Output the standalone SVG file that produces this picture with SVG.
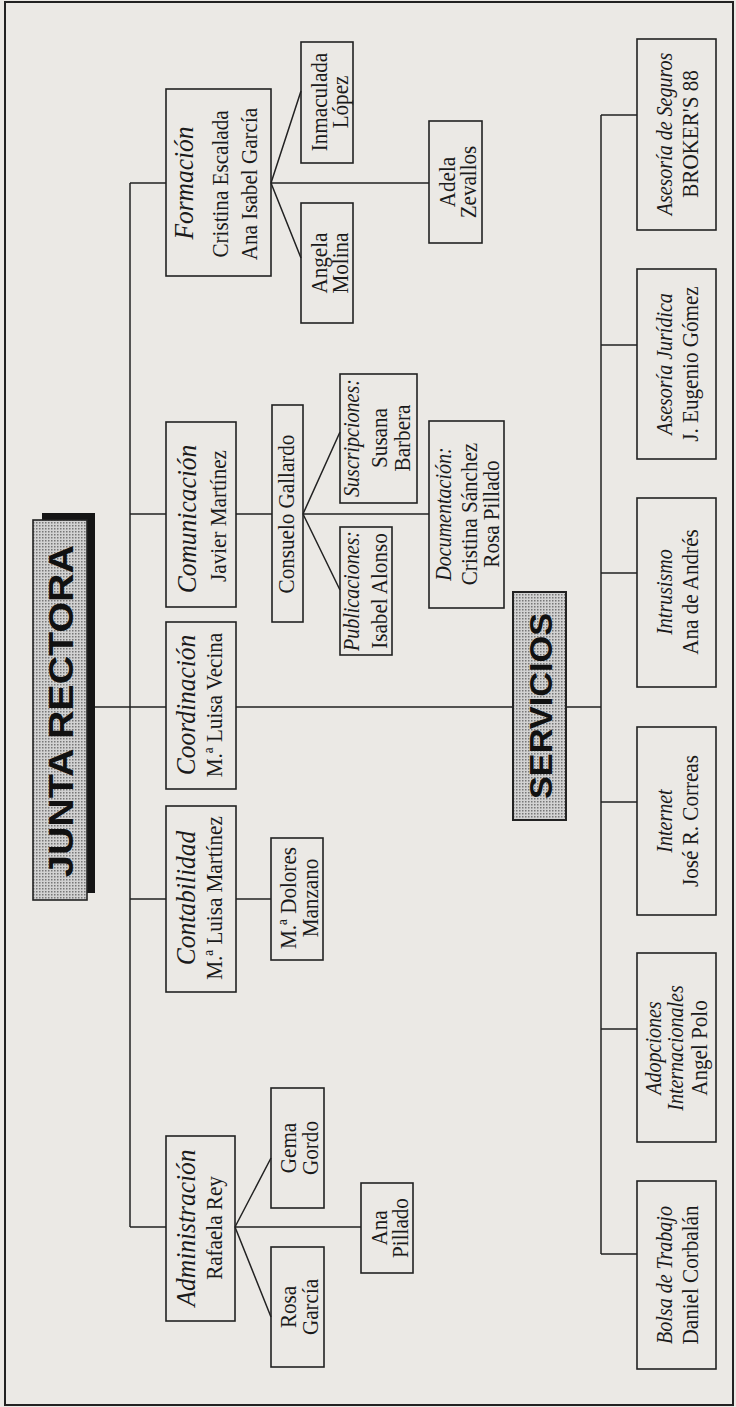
<svg xmlns="http://www.w3.org/2000/svg" width="736" height="1407" viewBox="0 0 736 1407">
<style>
.bg{fill:#ebe9e5}
.frame{fill:none;stroke:#222;stroke-width:2}
.box{fill:none;stroke:#222;stroke-width:1.6}
.conn path{fill:none;stroke:#222;stroke-width:1.5}
text{font-family:"Liberation Serif",serif;fill:#1a1a1a;text-anchor:middle}
.n{font-size:24px}
.h{font-size:28px;font-style:italic}
.l{font-size:23px;font-style:italic}
.big{font-family:"Liberation Sans",sans-serif;font-weight:700;fill:#111}
</style>
<defs>
<pattern id="dots" width="3" height="3" patternUnits="userSpaceOnUse">
<rect width="3" height="3" fill="#d2d2d2"/>
<rect width="1.5" height="1.5" fill="#777"/>
</pattern>
</defs>
<rect class="bg" x="0" y="0" width="736" height="1407"/>
<rect class="frame" x="5" y="2" width="728" height="1403"/>

<g id="connectors" class="conn">
<path d="M130,183 V1227"/>
<path d="M130,183 H166 M130,514 H166 M95,707 H166 M130,899 H166 M130,1227 H166"/>
<path d="M236,707 H513 M566,707 H601"/>
<path d="M601,115 V1254"/>
<path d="M601,115 H637 M601,345 H637 M601,573 H637 M601,802 H637 M601,1029 H637 M601,1254 H637"/>
<path d="M271,183 L301,91 M271,183 L301,258 M271,183 H429"/>
<path d="M236,514 H272 M303,514 L340,432 M303,514 L340,590 M303,514 H429"/>
<path d="M236,899 H271"/>
<path d="M235,1227 L271,1158 M235,1227 L271,1317 M235,1227 H361"/>
</g>

<g id="junta-rectora">
<rect x="42" y="513" width="53" height="380" fill="#151515"/>
<rect x="33" y="520" width="54" height="380" fill="url(#dots)" stroke="#222" stroke-width="1.6"/>
<text class="big" font-size="35" textLength="332" lengthAdjust="spacingAndGlyphs" transform="translate(73,711) rotate(-90)">JUNTA RECTORA</text>
</g>

<g id="servicios">
<rect x="513" y="592" width="53" height="228" fill="url(#dots)" stroke="#222" stroke-width="2"/>
<text class="big" font-size="32" textLength="186" lengthAdjust="spacingAndGlyphs" transform="translate(552,706) rotate(-90)">SERVICIOS</text>
</g>

<g id="formacion">
<rect class="box" x="166" y="89" width="105" height="187"/>
<text class="h" transform="translate(193,183) rotate(-90) scale(0.91,1)">Formación</text>
<text class="n" transform="translate(228,184) rotate(-90) scale(0.88,1)">Cristina Escalada</text>
<text class="n" transform="translate(257,184) rotate(-90) scale(0.88,1)">Ana Isabel García</text>
</g>
<g id="inmaculada-lopez">
<rect class="box" x="301" y="42" width="52" height="121"/>
<text class="n" transform="translate(327,102) rotate(-90) scale(0.88,1)">Inmaculada</text>
<text class="n" transform="translate(348,102) rotate(-90) scale(0.88,1)">López</text>
</g>
<g id="angela-molina">
<rect class="box" x="301" y="203" width="52" height="120"/>
<text class="n" transform="translate(327,263) rotate(-90) scale(0.88,1)">Angela</text>
<text class="n" transform="translate(348,263) rotate(-90) scale(0.88,1)">Molina</text>
</g>
<g id="adela-zevallos">
<rect class="box" x="429" y="121" width="53" height="122"/>
<text class="n" transform="translate(455,182) rotate(-90) scale(0.88,1)">Adela</text>
<text class="n" transform="translate(476,182) rotate(-90) scale(0.88,1)">Zevallos</text>
</g>

<g id="comunicacion">
<rect class="box" x="166" y="422" width="70" height="185"/>
<text class="h" transform="translate(196,519) rotate(-90) scale(0.91,1)">Comunicación</text>
<text class="n" transform="translate(226,516) rotate(-90) scale(0.88,1)">Javier Martínez</text>
</g>
<g id="consuelo-gallardo">
<rect class="box" x="272" y="405" width="31" height="217"/>
<text class="n" transform="translate(294,514) rotate(-90) scale(0.88,1)">Consuelo Gallardo</text>
</g>
<g id="suscripciones">
<rect class="box" x="340" y="374" width="77" height="129"/>
<text class="l" transform="translate(359,438) rotate(-90) scale(0.87,1)">Suscripciones:</text>
<text class="n" transform="translate(387,438) rotate(-90) scale(0.88,1)">Susana</text>
<text class="n" transform="translate(410,438) rotate(-90) scale(0.88,1)">Barbera</text>
</g>
<g id="publicaciones">
<rect class="box" x="340" y="527" width="52" height="128"/>
<text class="l" transform="translate(359,591) rotate(-90) scale(0.87,1)">Publicaciones:</text>
<text class="n" transform="translate(387,591) rotate(-90) scale(0.88,1)">Isabel Alonso</text>
</g>
<g id="documentacion">
<rect class="box" x="429" y="421" width="75" height="187"/>
<text class="l" transform="translate(451,514) rotate(-90) scale(0.87,1)">Documentación:</text>
<text class="n" transform="translate(477,514) rotate(-90) scale(0.88,1)">Cristina Sánchez</text>
<text class="n" transform="translate(499,514) rotate(-90) scale(0.88,1)">Rosa Pillado</text>
</g>

<g id="coordinacion">
<rect class="box" x="166" y="622" width="70" height="167"/>
<text class="h" transform="translate(195,705) rotate(-90) scale(0.91,1)">Coordinación</text>
<text class="n" transform="translate(222,705) rotate(-90) scale(0.88,1)">M.ª Luisa Vecina</text>
</g>

<g id="contabilidad">
<rect class="box" x="166" y="806" width="70" height="186"/>
<text class="h" transform="translate(195,898) rotate(-90) scale(0.91,1)">Contabilidad</text>
<text class="n" transform="translate(222,898) rotate(-90) scale(0.88,1)">M.ª Luisa Martínez</text>
</g>
<g id="dolores-manzano">
<rect class="box" x="271" y="838" width="52" height="122"/>
<text class="n" transform="translate(296,898) rotate(-90) scale(0.88,1)">M.ª Dolores</text>
<text class="n" transform="translate(318,898) rotate(-90) scale(0.88,1)">Manzano</text>
</g>

<g id="administracion">
<rect class="box" x="166" y="1136" width="69" height="185"/>
<text class="h" transform="translate(195,1228) rotate(-90) scale(0.91,1)">Administración</text>
<text class="n" transform="translate(222,1228) rotate(-90) scale(0.88,1)">Rafaela Rey</text>
</g>
<g id="gema-gordo">
<rect class="box" x="271" y="1088" width="53" height="120"/>
<text class="n" transform="translate(296,1148) rotate(-90) scale(0.88,1)">Gema</text>
<text class="n" transform="translate(318,1148) rotate(-90) scale(0.88,1)">Gordo</text>
</g>
<g id="rosa-garcia">
<rect class="box" x="271" y="1247" width="53" height="120"/>
<text class="n" transform="translate(296,1307) rotate(-90) scale(0.88,1)">Rosa</text>
<text class="n" transform="translate(318,1307) rotate(-90) scale(0.88,1)">García</text>
</g>
<g id="ana-pillado">
<rect class="box" x="361" y="1183" width="52" height="90"/>
<text class="n" transform="translate(387,1228) rotate(-90) scale(0.88,1)">Ana</text>
<text class="n" transform="translate(408,1228) rotate(-90) scale(0.88,1)">Pillado</text>
</g>

<g id="asesoria-seguros">
<rect class="box" x="637" y="39" width="79" height="191"/>
<text class="l" transform="translate(672,134) rotate(-90) scale(0.87,1)">Asesoría de Seguros</text>
<text class="n" transform="translate(698,134) rotate(-90) scale(0.88,1)">BROKER'S 88</text>
</g>
<g id="asesoria-juridica">
<rect class="box" x="637" y="269" width="79" height="190"/>
<text class="l" transform="translate(672,364) rotate(-90) scale(0.87,1)">Asesoría Jurídica</text>
<text class="n" transform="translate(698,364) rotate(-90) scale(0.88,1)">J. Eugenio Gómez</text>
</g>
<g id="intrusismo">
<rect class="box" x="637" y="498" width="79" height="189"/>
<text class="l" transform="translate(672,592) rotate(-90) scale(0.87,1)">Intrusismo</text>
<text class="n" transform="translate(698,592) rotate(-90) scale(0.88,1)">Ana de Andrés</text>
</g>
<g id="internet">
<rect class="box" x="637" y="727" width="79" height="188"/>
<text class="l" transform="translate(672,821) rotate(-90) scale(0.87,1)">Internet</text>
<text class="n" transform="translate(698,821) rotate(-90) scale(0.88,1)">José R. Correas</text>
</g>
<g id="adopciones">
<rect class="box" x="637" y="953" width="79" height="189"/>
<text class="l" transform="translate(661,1048) rotate(-90) scale(0.87,1)">Adopciones</text>
<text class="l" transform="translate(683,1048) rotate(-90) scale(0.87,1)">Internacionales</text>
<text class="n" transform="translate(707,1048) rotate(-90) scale(0.88,1)">Angel Polo</text>
</g>
<g id="bolsa-trabajo">
<rect class="box" x="637" y="1181" width="79" height="188"/>
<text class="l" transform="translate(672,1275) rotate(-90) scale(0.87,1)">Bolsa de Trabajo</text>
<text class="n" transform="translate(698,1275) rotate(-90) scale(0.88,1)">Daniel Corbalán</text>
</g>
</svg>
